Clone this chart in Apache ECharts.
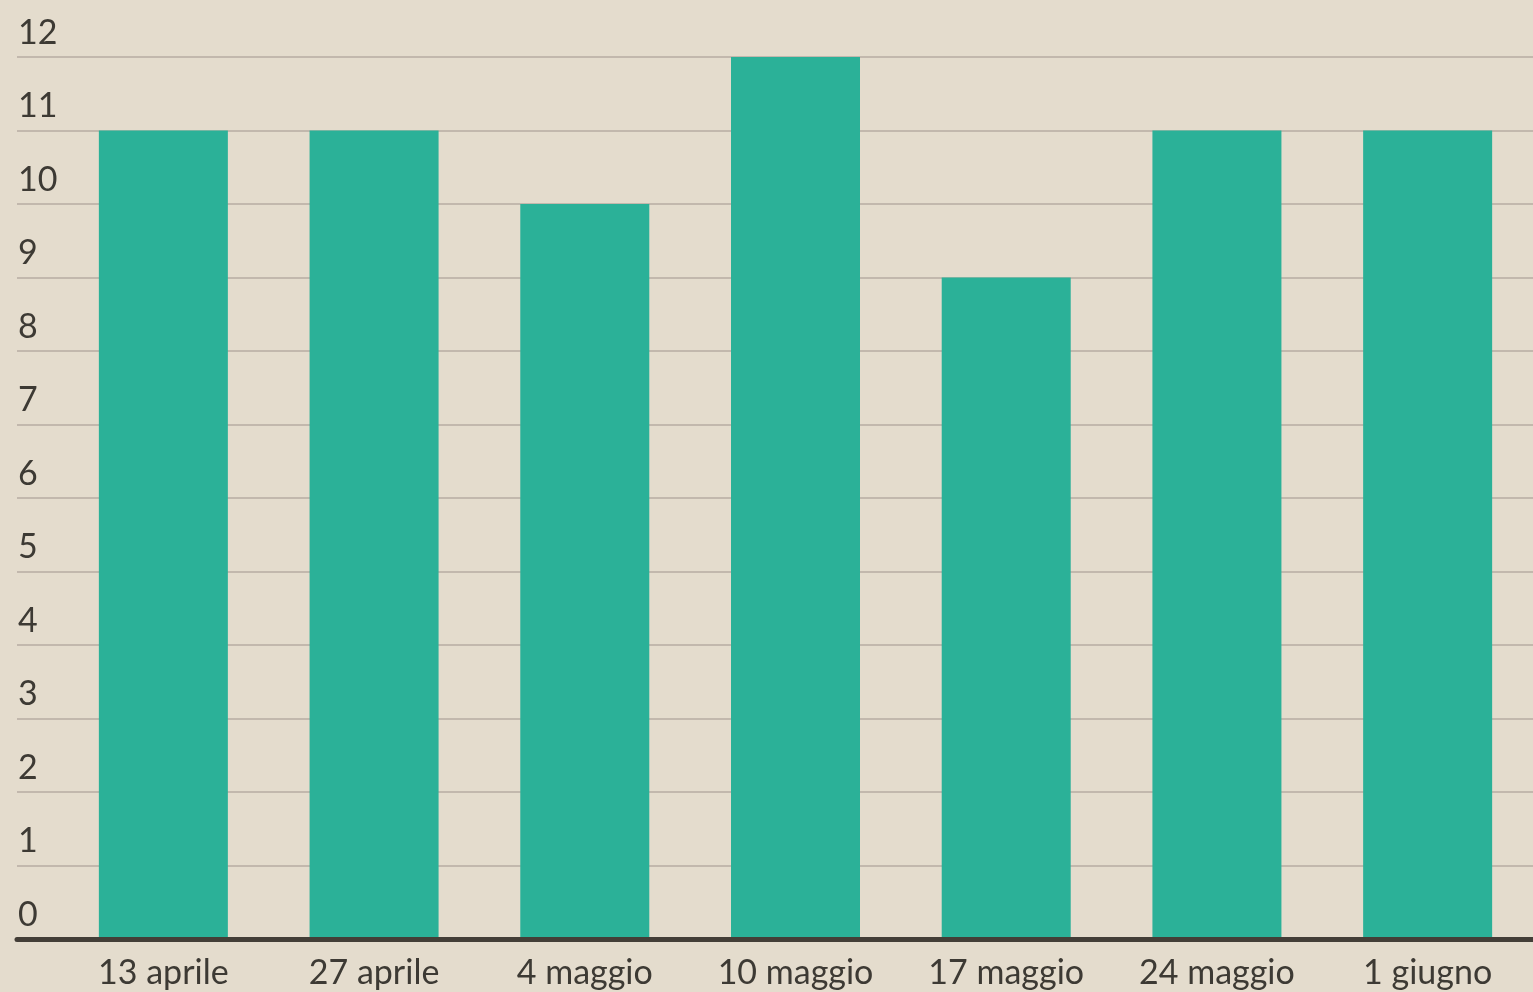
<!DOCTYPE html>
<html>
<head>
<meta charset="utf-8">
<script src="https://cdn.jsdelivr.net/npm/echarts@6/dist/echarts.min.js"></script>
<style>
html,body{margin:0;padding:0;background:#e4dccd;}
#chart{width:1533px;height:992px;}
</style>
</head>
<body>
<div id="chart"></div>
<script>
const categories = ['13 aprile','27 aprile','4 maggio','10 maggio','17 maggio','24 maggio','1 giugno'];
const values = [11, 11, 10, 12, 9, 11, 11];
const yMin = 0, yMax = 12, yStep = 1;

const textColor = '#3d3a34';
const font = 'Lato';
const chart = echarts.init(document.getElementById('chart'));
chart.setOption({
  backgroundColor: '#e4dccd',
  animation: false,
  grid: [
    {left: 17, right: 0, top: 57, bottom: 53},
    {left: 58, right: 0, top: 57, bottom: 53}
  ],
  xAxis: [
    {gridIndex: 0, type: 'category', data: [''], boundaryGap: false,
     axisLabel: {show: false}, axisTick: {show: false}, splitLine: {show: false},
     axisLine: {show: true, lineStyle: {color: '#433e37', width: 5}}, z: 10},
    {gridIndex: 1, type: 'category', data: categories,
     axisLine: {show: false}, axisTick: {show: false},
     axisLabel: {color: textColor, fontFamily: font, fontSize: 34, margin: 17, interval: 0}}
  ],
  yAxis: [
    {gridIndex: 0, type: 'value', min: yMin, max: yMax, interval: yStep,
     axisLine: {show: false}, axisTick: {show: false},
     splitLine: {show: true, lineStyle: {color: '#c2b8ad', width: 2}},
     axisLabel: {inside: true, margin: 1, align: 'left', verticalAlign: 'bottom',
                 padding: [0, 0, 7, 0], color: textColor, fontFamily: font, fontSize: 34}},
    {gridIndex: 1, type: 'value', min: yMin, max: yMax, interval: yStep, show: false,
     splitLine: {show: false}}
  ],
  series: [{
    type: 'bar', xAxisIndex: 1, yAxisIndex: 1, data: values,
    barWidth: 129, itemStyle: {color: '#2bb198'}
  }]
});
</script>
</body>
</html>
